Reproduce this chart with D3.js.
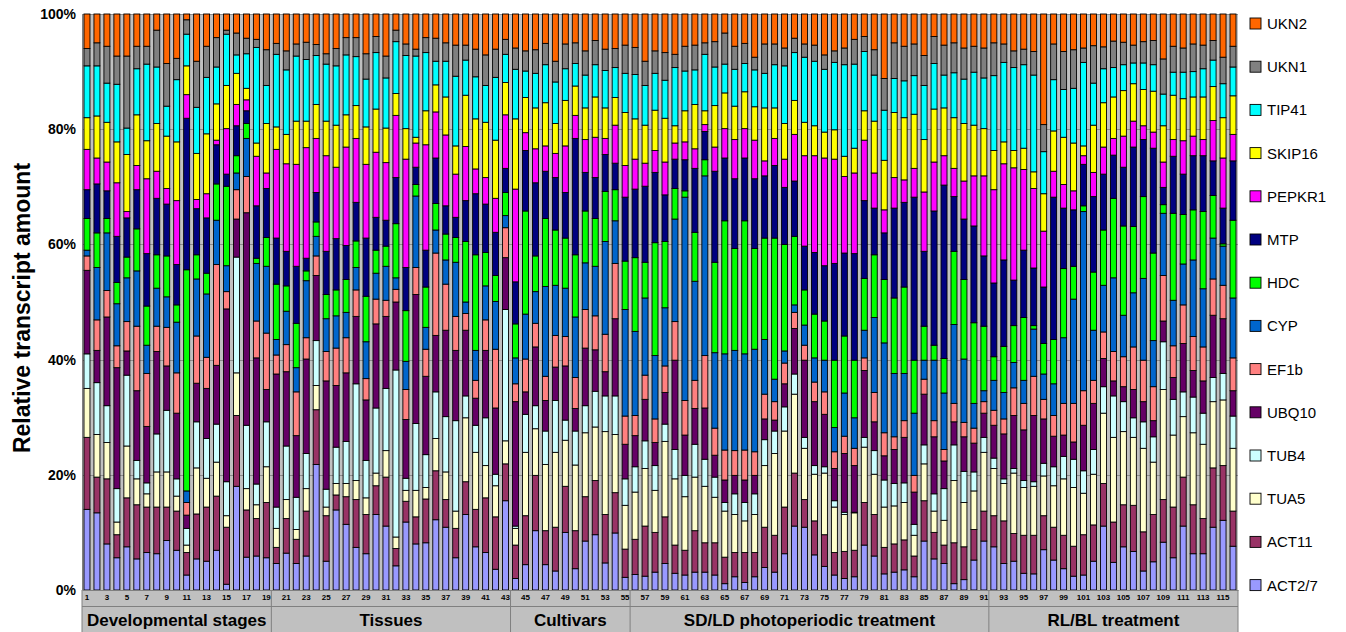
<!DOCTYPE html>
<html>
<head>
<meta charset="utf-8">
<script src="https://cdn.jsdelivr.net/npm/d3@7"></script>
<style>
  body { margin: 0; background: #fff; }
  svg { display: block; font-family: "Liberation Sans", Arial, sans-serif; }
</style>
</head>
<body>
<svg width="1346" height="632"></svg>
<script>
// gene order from the bottom of each stack to the top
var genes = ["ACT2/7", "ACT11", "TUA5", "TUB4", "UBQ10", "EF1b", "CYP", "HDC", "MTP", "PEPKR1", "SKIP16", "TIP41", "UKN1", "UKN2"];
var colors = ["#9999FF", "#993366", "#FFFFCC", "#CCFFFF", "#660066", "#FF8080", "#0066CC", "#00FF00", "#000080", "#FF00FF", "#FFFF00", "#00FFFF", "#808080", "#FF6600"];

var samples = d3.range(1, 117);
var yTicks = [0, 20, 40, 60, 80, 100];

var groups = ["Developmental stages", "Tissues", "Cultivars", "SD/LD photoperiodic treatment", "RL/BL treatment"];
var groupStart = [1, 20, 44, 56, 92];
var groupEnd = [19, 43, 55, 91, 116];

// share of each gene (% of total) per sample 1..116
var act27 = [14, 13.4, 8, 5.6, 7.5, 5.4, 6.5, 6.3, 8.6, 6.9,
  2.6, 5.4, 5, 6.9, 1, 18, 5.7, 5.9, 5.6, 4.6,
  6.4, 4.6, 5.9, 21.8, 5, 13.9, 11.4, 7.4, 6.3, 13.1,
  11.1, 4.2, 11.8, 8, 8.2, 12.2, 10.9, 5.6, 13.1, 7.5,
  6.5, 3.6, 15.5, 2, 4.4, 10.3, 4.4, 3.3, 10, 3.7,
  8.5, 9.6, 4.7, 9.9, 2.2, 2.7, 2.4, 3.1, 4.6, 2.9,
  2.6, 3.1, 3.1, 2.6, 1.1, 2.3, 1.3, 2.3, 3.9, 3.1,
  6.3, 11.1, 10.9, 6.1, 4.1, 2.6, 2, 2.3, 7.8, 5.9,
  2.8, 3.1, 3.5, 2.3, 8.5, 5.4, 4.6, 1.1, 1.8, 5.2,
  8.5, 7.5, 4.6, 5, 2.9, 2.8, 7, 5.2, 3.7, 2.4,
  2.6, 5, 11.1, 4.8, 7.5, 6.7, 3.3, 4.9, 8.3, 5.6,
  11.1, 6.3, 6.3, 10.9, 12.1, 7.6];
var act11 = [12.5, 6.2, 11.3, 4, 8.5, 9.4, 7.9, 8.1, 5.8, 6.8,
  3.9, 7.8, 9.4, 9.4, 9.9, 12.3, 8.2, 6.5, 9.6, 2.8,
  6, 4.2, 7.8, 9.5, 7.9, 2.6, 4.8, 8.3, 6.8, 5,
  8.5, 3, 3.6, 4.7, 7.6, 8.5, 4.8, 5.1, 5.7, 6.5,
  9.5, 9.1, 6.4, 5.8, 8.5, 9.6, 5.9, 7.6, 8, 6.6,
  7.7, 9.4, 8.4, 7, 4.9, 6.1, 8.7, 6.9, 8.1, 4.9,
  4.3, 7.2, 5.1, 5.6, 4.6, 4.2, 5.2, 4.2, 7, 6.4,
  8.1, 9.2, 4.8, 5.9, 5.5, 3.9, 4.7, 4.6, 7.4, 7.2,
  4.6, 4.9, 5.2, 3.6, 7, 4.6, 3.2, 7.1, 5.7, 5.3,
  5.2, 5.4, 7.4, 4.8, 6.6, 6.7, 5.9, 5.7, 5.8, 5.2,
  7, 6.3, 7.4, 7, 7.3, 8, 6.8, 8.2, 7.4, 8.8,
  8.5, 8.5, 6.1, 10.3, 9.5, 6.1];
var tua5 = [8.5, 7.4, 6.3, 2.2, 9, 4.5, 2.3, 6.1, 6.1, 2.6,
  1.3, 8, 5, 5.9, 2, 7.4, 3.7, 2.4, 6.2, 3.3,
  3.3, 1.7, 3.9, 4.2, 1.5, 2, 2.3, 3.3, 2.9, 2.2,
  4.6, 2, 1.9, 4.6, 2, 5.6, 4.8, 3, 11.1, 9.9,
  5.6, 5.4, 4, 2.9, 11, 8.1, 11.5, 13, 8, 11.4,
  11.1, 9.3, 14.4, 10.1, 7.6, 8.2, 10, 7.3, 13.1, 11.5,
  9.3, 9.3, 9.8, 7.9, 8, 6.6, 5.5, 6.6, 10.7, 14.2,
  13.2, 13.7, 8.9, 8.1, 10.7, 7.9, 6.4, 6.5, 9.6, 7,
  7, 6.6, 6.5, 3.6, 6.4, 3.7, 4.3, 10.8, 7.7, 6.7,
  10.2, 8.2, 6.5, 10.5, 8.3, 8.5, 6.9, 7.2, 9.8, 10.2,
  7.2, 8.8, 12.2, 14.7, 12.7, 11.8, 14.5, 9.1, 19.1, 12.5,
  10.5, 12.5, 12.9, 11.5, 11.4, 10.9];
var tub4 = [6, 9, 6.4, 5.8, 12.3, 3.2, 1.9, 6.6, 10.7, 3,
  2.9, 8, 6.9, 6.6, 5.9, 20.1, 11, 3.6, 7.8, 3.7,
  9.3, 5.6, 6.1, 7.8, 3.1, 6.3, 7.3, 16.8, 6.5, 11.3,
  10.8, 29, 2.1, 11.6, 5.7, 8.1, 9.6, 15.7, 3.8, 4.7,
  8.3, 2, 22.8, 0.4, 6.6, 4, 5.8, 9, 3.5, 5.9,
  4.7, 6.2, 6.2, 6.7, 4.6, 4.4, 4.8, 4.3, 3, 5.1,
  3.7, 5.7, 4.7, 3.5, 1.5, 3.6, 3.2, 3.6, 4.5, 3.9,
  4.2, 3.5, 1.9, 1.5, 1.1, 1.1, 0.4, 0.1, 1.7, 4.1,
  4.7, 3.9, 3.4, 1.9, 3.3, 3, 5.5, 6.2, 5.4, 3.3,
  2.6, 1.8, 0.8, 0.8, 1.2, 0.8, 2.2, 3.3, 3.9, 4.9,
  3.9, 4.3, 4.6, 7.2, 5.2, 3.4, 4.6, 4.4, 8.3, 6.2,
  4.3, 6.2, 5.4, 4.2, 4.6, 5.6];
var ubq10 = [14.5, 5.6, 15.4, 21, 4.2, 12.1, 9.8, 14.3, 7.7, 11.4,
  2.3, 6.7, 8.7, 10.2, 30, 6.6, 36.9, 21.9, 5.6, 23.1,
  12.9, 10.7, 16.4, 11.3, 18.8, 10.7, 11.9, 11.7, 10.5, 14.6,
  12.5, 11.8, 10.2, 22.4, 13.6, 9.8, 15, 12.2, 11.4, 4.7,
  11.7, 11.5, 9, 21.6, 3.9, 10.2, 5.3, 5.8, 9.4, 3.9,
  10, 7.2, 4.2, 13.4, 6, 5.4, 7.2, 4, 5.5, 15.5,
  7, 6.2, 8.9, 3.8, 3.9, 3.2, 3.9, 3.2, 3.6, 1.9,
  4, 7.9, 13.4, 11.1, 9.1, 5.6, 10.2, 8.1, 11.6, 5,
  4.2, 5.9, 7.9, 5.6, 8.8, 9.9, 4.8, 4, 6, 5,
  4.2, 5.7, 7.8, 9.2, 8.8, 11.5, 7.7, 5.3, 3.7, 3,
  7.9, 8, 4.9, 2.6, 2.6, 4.9, 3.5, 2.8, 3.6, 3.8,
  8.4, 4.6, 5.6, 10.8, 9.5, 4.4];
var ef1b = [2.5, 5.3, 4.6, 3.8, 5.1, 11.2, 9.2, 4.4, 6.7, 7,
  2.2, 8.2, 5.4, 17.5, 3, 5.1, 6.3, 6.4, 9.8, 3.3,
  4.7, 7.6, 3.7, 3.4, 5.1, 6.5, 6.1, 4.6, 3.7, 4.3,
  2.8, 2.2, 5.2, 4.7, 4.7, 14.3, 8, 5.9, 2.9, 3.1,
  5.3, 10.2, 5.2, 3.1, 5.7, 4.1, 4.2, 5.5, 5.1, 5.4,
  6.7, 5.9, 6.5, 9.6, 4.9, 3.5, 4.2, 4.1, 4.6, 6.7,
  6, 4.9, 9.1, 4.7, 5.2, 4.3, 5.2, 4.1, 4.3, 3.2,
  3.6, 2.8, 2.6, 3.4, 3.9, 2.9, 3, 3, 2.2, 5.1,
  4, 2.2, 2.9, 2.9, 2.6, 2.8, 2, 3.2, 2.5, 2.6,
  2, 2.6, 2.6, 4.8, 4.6, 6.8, 3.4, 3.6, 5.5, 6.7,
  6, 4, 4.6, 5.1, 5.2, 7.4, 7.2, 5.9, 7.9, 5.5,
  6.7, 5.9, 5.9, 6.3, 5.8, 5.7];
var cyp = [1, 9.1, 10, 7.3, 7.6, 9.6, 4.9, 6.6, 5.3, 8.8,
  2, 9.9, 11, 7.7, 4.5, 2.9, 6.6, 10, 11.6, 2.7,
  5.8, 4.2, 9.9, 3.4, 5.7, 5.6, 4.4, 3.9, 6.4, 4.5,
  5.9, 2, 4.9, 12.4, 3.8, 4, 4.2, 9.4, 2, 5.2,
  5.9, 8.3, 2.1, 4.5, 7.8, 5.5, 15.6, 8.7, 8.4, 10.5,
  8.1, 8.6, 16.1, 7.4, 18.5, 14.6, 13.4, 11, 10.1, 17.8,
  35.3, 17.2, 31.2, 13.1, 16.7, 17.4, 16.7, 17.8, 9.5, 3.9,
  2.1, 1.3, 3.5, 4.2, 5.5, 4.2, 7.5, 5.3, 4.8, 13,
  15.6, 11, 8.2, 10.8, 3.3, 10.5, 9.8, 13.7, 11, 4.3,
  1.9, 5.2, 4.6, 4.4, 4, 8.2, 4.4, 5.5, 11.4, 18.1,
  31.1, 8.7, 8.1, 12.8, 7.2, 9.4, 14.2, 8, 10.8, 7.9,
  7.1, 13.3, 10.1, 7.1, 6.8, 10.4];
var hdc = [5.5, 6, 2.5, 3.7, 3.6, 7.3, 6.8, 5.8, 7.1, 3,
  38.4, 4.2, 3.6, 6.3, 13.8, 3, 2.6, 0.9, 5, 9.6,
  4.4, 7.7, 1.7, 2.5, 4.2, 4.5, 5.7, 4.6, 7.9, 4,
  3.5, 9.4, 8.8, 2, 7, 4.6, 4.5, 4.3, 10.5, 16.6,
  5.8, 4.5, 4, 5.9, 17.9, 6.2, 11.8, 9.6, 8.7, 10.8,
  9, 8.3, 8.7, 5.4, 8.4, 12.8, 6.2, 19.6, 11.5, 5.3,
  1.1, 8.5, 2.8, 15.7, 23.1, 17.7, 23.1, 17.5, 17.6, 24.5,
  18.5, 11.9, 6.1, 7.6, 6.8, 11.7, 9.9, 10, 9, 10.9,
  11, 13.1, 15, 9.2, 5.9, 2.6, 6, 12.7, 13.8, 14,
  11.2, 4.1, 8, 6.4, 10.9, 0.6, 5.3, 7.7, 12, 5.7,
  1, 10.1, 9.6, 13.8, 15.5, 11.5, 14.2, 15.2, 1.5, 15.1,
  8.6, 8.7, 13.4, 7.4, 0.4, 13.5];
var mtp = [5, 8.5, 4.8, 8, 6.8, 6.8, 9.1, 9.8, 9, 7,
  26.3, 8, 9.6, 6.8, 2.1, 5.2, 2.2, 9.1, 8.5, 8,
  6, 9.9, 2.2, 5.1, 7.5, 8.9, 5.9, 6.7, 10.1, 5.7,
  4.5, 8, 7.5, 3, 6.4, 7.9, 4.9, 3.5, 7.1, 10.6,
  8.4, 7.5, 4.2, 7.3, 10.5, 12.7, 8.2, 9.1, 7.9, 20.2,
  6.7, 7.1, 6.4, 4.6, 11.1, 11.9, 13.2, 12.2, 8.1, 5.1,
  5.4, 11.1, 4.9, 15.8, 10.9, 12.1, 10.9, 12.1, 10.8, 12.6,
  9.9, 9.6, 7.6, 10.7, 9.6, 16.8, 14.4, 18.5, 13.5, 8.1,
  8.1, 15.6, 14.7, 28.3, 13, 23.3, 30.1, 9.5, 10.5, 16.8,
  12.2, 12.8, 15, 7.9, 11.7, 10, 9.8, 24.7, 10.5, 9.8,
  7.2, 13.1, 9.7, 7.5, 10.2, 13.8, 9.9, 18.2, 3, 9.9,
  7, 9.4, 9.7, 6, 6.2, 10.3];
var pepkr1 = [7, 4.5, 5, 9.3, 1.1, 4.2, 13, 4.7, 2.7, 11.1,
  4.1, 1.6, 4.2, 0.8, 7.9, 3.7, 1.9, 8.6, 2.7, 15.4,
  15.2, 17.7, 19.2, 9.4, 16.6, 12.4, 17.1, 11.1, 12.8, 11.3,
  10, 10.8, 18.8, 4.2, 18.3, 8, 12.3, 7.5, 9.4, 4.3,
  4.6, 5.9, 9.3, 16.1, 3.1, 5.9, 4.4, 4.2, 8.1, 4,
  5.7, 7, 2.8, 6.6, 5.5, 5.2, 4, 3.8, 5.7, 2.8,
  3.1, 3.4, 1.2, 4.2, 5.1, 6.8, 5.1, 6.7, 2.6, 4.7,
  4.9, 8.1, 15.7, 16.8, 18.7, 18.1, 13.3, 14, 10.5, 6.1,
  4, 5.3, 3.9, 5, 10.3, 8.5, 5.1, 4.9, 6.6, 8.7,
  13.9, 16.2, 16.7, 19.5, 14, 13.8, 9.7, 4.5, 4.1, 3.3,
  1.5, 4.2, 4.7, 2.9, 5.4, 4.5, 2.4, 2.8, 4.4, 2.9,
  5.8, 3.4, 2.8, 7, 8.7, 4.6];
var skip16 = [5.5, 7.3, 6.9, 7.1, 9.9, 8.8, 6.6, 8.3, 9.1, 10.2,
  5, 8, 10.4, 6.3, 7.5, 5.4, 2, 2.3, 8.6, 3.9,
  5.1, 7.5, 4.6, 5.9, 6, 7.3, 5.6, 5.7, 6.5, 7.5,
  6, 3.8, 5.3, 1, 5.9, 4.7, 6.6, 4.9, 8.9, 8.7,
  9.6, 10.1, 5.6, 12.2, 6.1, 7.1, 7.5, 5.2, 7.9, 5.1,
  5.5, 7, 5.3, 4.8, 9.2, 7, 6.6, 7, 7.6, 3,
  5.4, 7.7, 2.4, 7.2, 6.2, 5.8, 6.4, 5.8, 9.2, 5.3,
  6.2, 5.9, 5.8, 5.2, 4.5, 5.1, 3.5, 4.3, 5.1, 9,
  8.6, 11.3, 10.8, 9.4, 9.1, 9.2, 8.3, 8.8, 10, 8.8,
  8.2, 6.8, 3.8, 3, 3.7, 2.9, 6.5, 7, 8.2, 8.3,
  1.7, 8.2, 7.7, 7.2, 7.9, 6.5, 6.3, 7.1, 6.3, 7.7,
  7.3, 6.8, 7.4, 5.9, 7, 6.7];
var tip41 = [9, 8.7, 6.8, 10, 4.6, 8, 13.3, 9.8, 5.2, 10.8,
  5.5, 8, 9.8, 6.4, 8.9, 3.2, 6, 16.6, 6.6, 12.6,
  11.2, 11.3, 10.7, 8.5, 9.9, 10.3, 10.4, 8.5, 8.3, 9.8,
  8.7, 9, 12.7, 14.1, 10.1, 4.1, 6.2, 12.1, 6.1, 7.3,
  6.4, 10.9, 4.9, 8.6, 4.6, 6, 6.6, 7.2, 5.5, 3.9,
  5.7, 5.6, 6.5, 5.2, 6.8, 7.7, 6.9, 6.4, 6.6, 10.1,
  6.9, 6, 9.8, 6.7, 5, 6.4, 4.9, 6.4, 6, 7.5,
  10, 8.3, 11.3, 11.2, 10.9, 11.7, 15.9, 14.6, 10.3, 8,
  8.7, 5.9, 6.4, 6.7, 9.4, 7.9, 5.7, 7.8, 7.7, 9.2,
  8.8, 13, 13.8, 14.4, 14.5, 16.8, 7.3, 8.9, 8.3, 9.5,
  14.5, 7.3, 5.9, 5.1, 4.5, 3.6, 4.6, 4.6, 5.5, 4,
  4.6, 4.4, 4.9, 4.6, 5.9, 5];
var ukn1 = [3, 4, 6.4, 4.9, 12.5, 3.9, 3.1, 6.4, 7.4, 3.7,
  2.5, 8, 5.4, 5.1, 0.7, 3.8, 2.7, 1.4, 6.2, 1.9,
  3.3, 2.1, 3, 1.9, 1.8, 3, 3, 3.3, 4.4, 2.8,
  3.8, 2, 2, 1.2, 2.6, 4, 3.2, 5.4, 2.6, 4.8,
  5.3, 4.9, 2.6, 3.7, 3.5, 4.1, 3.7, 3.6, 4.3, 3.6,
  4.2, 4.2, 3.7, 3.3, 4.9, 4.7, 4.2, 3.9, 4.8, 2.3,
  4.3, 4.3, 2, 4.4, 5.4, 4, 3.5, 2.2, 5.1, 3.6,
  3.1, 2.5, 2.3, 2.8, 2.5, 2, 2.9, 4.3, 2.6, 4.4,
  5.5, 6.2, 6, 5.5, 5.2, 4.7, 5.2, 5.2, 5.4, 4.5,
  5.2, 5.7, 3.2, 2.9, 2.7, 4.1, 4.7, 6.2, 6.6, 6.7,
  2.5, 6.5, 3.8, 4.6, 3.9, 3.1, 3.7, 4.2, 6.1, 4.5,
  4.2, 4.8, 4.1, 3.4, 4.6, 3.6];
var ukn2 = [6, 5, 5.6, 7.3, 7.3, 5.6, 5.6, 2.8, 8.6, 7.7,
  1, 8.2, 5.6, 4.1, 2.8, 3.3, 4.2, 4.4, 6.2, 5.1,
  6.4, 5.2, 4.9, 5.3, 6.9, 6, 4.1, 4.1, 6.9, 3.9,
  7.3, 2.8, 5.2, 6.1, 4.1, 4.2, 5, 5.4, 5.4, 6.1,
  7.1, 6.1, 4.4, 5.9, 6.4, 6.2, 5.1, 8.2, 5.2, 5,
  6.4, 4.6, 6.1, 6, 5.4, 5.8, 8.2, 6.4, 6.7, 7,
  5.6, 5.4, 5, 4.8, 3.3, 5.6, 5.1, 7.5, 5.2, 5.2,
  5.9, 4.2, 5.2, 5.4, 7.1, 6.4, 5.9, 4.4, 3.9, 6.2,
  11.2, 5, 5.6, 5.2, 7.2, 3.9, 5.4, 5, 5.9, 5.6,
  5.9, 5, 5.2, 6.4, 6.1, 6.5, 19.2, 5.2, 6.5, 6.2,
  5.9, 5.5, 5.7, 4.7, 4.9, 5.4, 4.8, 4.6, 7.8, 5.6,
  5.9, 5.2, 5.4, 4.6, 7.5, 5.6];

var series = [act27, act11, tua5, tub4, ubq10, ef1b, cyp, hdc, mtp, pepkr1, skip16, tip41, ukn1, ukn2];

var table = samples.map(function(s, i) {
  var row = {sample: s};
  genes.forEach(function(g, k) { row[g] = series[k][i]; });
  return row;
});

var svg = d3.select("svg");
var PLOT = {left: 82, right: 1238, top: 14, bottom: 590};

var x = d3.scaleBand()
    .domain(samples)
    .range([PLOT.left, PLOT.right])
    .paddingInner(0.4)
    .paddingOuter(0.2);

var y = d3.scaleLinear().domain([0, 100]).range([PLOT.bottom, PLOT.top]);

var color = d3.scaleOrdinal().domain(genes).range(colors);

// plot area
svg.append("rect")
    .attr("x", PLOT.left).attr("y", PLOT.top)
    .attr("width", PLOT.right - PLOT.left).attr("height", PLOT.bottom - PLOT.top)
    .attr("fill", "#c0c0c0");

svg.append("g")
    .attr("class", "grid")
  .selectAll("line")
  .data(yTicks)
  .enter().append("line")
    .attr("x1", PLOT.left).attr("x2", PLOT.right)
    .attr("y1", d => Math.round(y(d)) + 0.5).attr("y2", d => Math.round(y(d)) + 0.5)
    .attr("stroke", "#8c8c8c").attr("stroke-width", 1);

var stack = d3.stack().keys(genes);
var layers = stack(table);

svg.append("g").selectAll("g")
  .data(layers)
  .enter().append("g")
    .attr("fill", d => color(d.key))
  .selectAll("rect")
  .data(d => d)
  .enter().append("rect")
    .attr("x", d => x(d.data.sample))
    .attr("width", x.bandwidth())
    .attr("y", d => y(d[1]))
    .attr("height", d => y(d[0]) - y(d[1]))
    .attr("stroke", "#000")
    .attr("stroke-width", 0.9);

// y axis
var yAxis = svg.append("g")
    .attr("transform", "translate(" + PLOT.left + ",0)")
    .call(d3.axisLeft(y).tickValues(yTicks).tickFormat(d => d + "%").tickSize(0).tickPadding(6));
yAxis.select(".domain").attr("stroke", "#808080");
yAxis.selectAll("text")
    .attr("font-family", "Liberation Sans, Arial, sans-serif")
    .attr("font-size", 14).attr("font-weight", "bold").attr("fill", "#000");

svg.append("text")
    .attr("transform", "translate(30," + ((PLOT.top + PLOT.bottom) / 2 + 6) + ") rotate(-90)")
    .attr("text-anchor", "middle")
    .attr("font-size", 23).attr("font-weight", "bold")
    .text("Relative transcript amount");

// category axis: sample numbers and group boxes
svg.append("rect")
    .attr("x", PLOT.left).attr("y", PLOT.bottom)
    .attr("width", PLOT.right - PLOT.left).attr("height", 42)
    .attr("fill", "#c0c0c0");

var xAxis = svg.append("g")
    .attr("transform", "translate(0," + PLOT.bottom + ")")
    .call(d3.axisBottom(x).tickValues(samples.filter(d => d % 2 === 1)).tickSize(0).tickPadding(4));
xAxis.select(".domain").attr("stroke", "#808080");
xAxis.selectAll("text")
    .attr("font-family", "Liberation Sans, Arial, sans-serif")
    .attr("font-size", 8).attr("font-weight", "bold").attr("fill", "#000");

var step = x.step();
var gBox = svg.append("g");
groups.forEach(function(name, i) {
  var x0 = i === 0 ? PLOT.left : x(groupStart[i]) - (step - x.bandwidth()) / 2;
  var x1 = i === groups.length - 1 ? PLOT.right : x(groupEnd[i]) + x.bandwidth() + (step - x.bandwidth()) / 2;
  gBox.append("line")
      .attr("x1", x1).attr("x2", x1).attr("y1", PLOT.bottom).attr("y2", 632)
      .attr("stroke", "#808080");
  gBox.append("text")
      .attr("x", (x0 + x1) / 2).attr("y", 626)
      .attr("text-anchor", "middle")
      .attr("font-size", 17).attr("font-weight", "bold")
      .text(name);
});
gBox.append("line")
    .attr("x1", PLOT.left).attr("x2", PLOT.right).attr("y1", 606.5).attr("y2", 606.5)
    .attr("stroke", "#808080");
gBox.append("line")
    .attr("x1", PLOT.left).attr("x2", PLOT.left).attr("y1", PLOT.bottom).attr("y2", 632)
    .attr("stroke", "#808080");

// legend, top entry = top of the stack
var legend = svg.append("g").attr("transform", "translate(1250,18)");
var entries = genes.slice().reverse();
entries.forEach(function(g, i) {
  var row = legend.append("g").attr("transform", "translate(0," + (i * 43.2) + ")");
  row.append("rect")
      .attr("width", 11).attr("height", 11)
      .attr("fill", color(g)).attr("stroke", "#000").attr("stroke-width", 0.9);
  row.append("text")
      .attr("x", 17).attr("y", 11)
      .attr("font-size", 15)
      .text(g);
});
</script>
</body>
</html>
